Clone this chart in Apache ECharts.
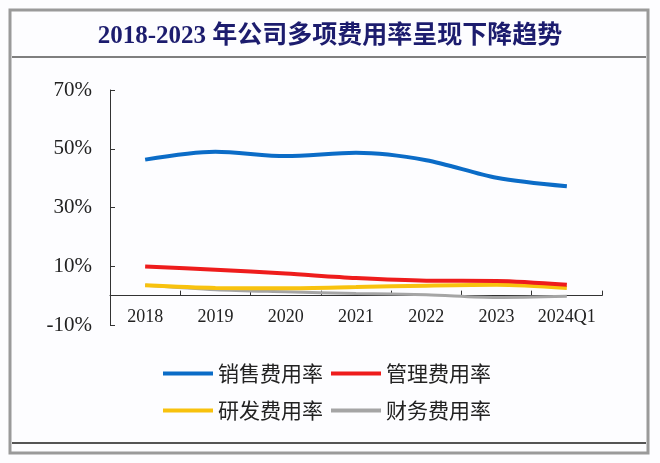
<!DOCTYPE html>
<html><head><meta charset="utf-8">
<script src="https://cdn.jsdelivr.net/npm/echarts@6/dist/echarts.min.js"></script>
<style>html,body{margin:0;padding:0;background:#fff}#c{width:660px;height:463px}</style>
</head><body><div id="c"></div>
<script>
const categories = ['2018','2019','2020','2021','2022','2023','2024Q1'];
const salesRate = [46.3, 49.0, 47.5, 48.6, 46.1, 40.1, 37.2];
const adminRate = [9.9, 8.8, 7.5, 6.0, 5.1, 5.0, 3.7];
const rdRate = [3.5, 2.6, 2.5, 2.9, 3.4, 3.7, 2.6];
const finRate = [3.5, 2.0, 1.3, 0.7, 0.3, -0.6, -0.2];
const seriesNames = ['销售费用率','管理费用率','研发费用率','财务费用率'];
const yTicks = [-10, 10, 30, 50, 70];

const chart = echarts.init(document.getElementById('c'));
const serif = "'Liberation Serif','Times New Roman',serif";
const colors = ['#0b6cc7','#ee1c1c','#f8c20e','#a5a5a5'];
const mk = (name, data, i, w) => ({
  name, type:'line', data, smooth:0.3, symbol:'none',
  lineStyle:{color:colors[i], width:w}, itemStyle:{color:colors[i]}, z: 10 - i
});
const gridTop = 90, gridBottom = 138, H = 463;
const plotH = H - gridTop - gridBottom;
const zeroOffset = -plotH * (0 - yTicks[0]) / (yTicks[yTicks.length-1] - yTicks[0]);
chart.setOption({
  backgroundColor:'#fdfdff',
  animation:false,
  title:{text:'2018-2023 年公司多项费用率呈现下降趋势', left:'center', top:19,
    textStyle:{fontFamily:serif+",'Noto Sans CJK SC'", fontWeight:'bold', fontSize:25, color:'#1c1c6e'}},
  graphic:[
    {type:'rect', shape:{x:10,y:10,width:638,height:443}, style:{fill:'none', stroke:'#9a9a9a', lineWidth:3}, z:-1},
    {type:'line', shape:{x1:12,y1:57,x2:646,y2:57}, style:{stroke:'#555', lineWidth:1.5}},
    {type:'line', shape:{x1:12,y1:443,x2:646,y2:443}, style:{stroke:'#555', lineWidth:2}}
  ],
  legend:[
    {data:[seriesNames[0],seriesNames[1]], top:358, left:158, icon:'rect', itemWidth:50, itemHeight:4, itemGap:8,
     textStyle:{fontFamily:"'Noto Sans CJK SC'", fontSize:21, color:'#222'}},
    {data:[seriesNames[2],seriesNames[3]], top:395, left:158, icon:'rect', itemWidth:50, itemHeight:4, itemGap:8,
     textStyle:{fontFamily:"'Noto Sans CJK SC'", fontSize:21, color:'#222'}}
  ],
  grid:{left:110, right:58, top:gridTop, bottom:gridBottom},
  xAxis:{type:'category', data:categories, boundaryGap:true, position:'bottom', offset:zeroOffset,
    axisLine:{onZero:false, lineStyle:{color:'#333', width:1}},
    axisTick:{show:true, inside:true, length:5, interval:0, lineStyle:{color:'#333'}},
    axisLabel:{margin:13, interval:0, fontFamily:serif, fontSize:18, color:'#222'}},
  yAxis:{type:'value', min:yTicks[0], max:yTicks[yTicks.length-1], interval:20,
    splitLine:{show:false},
    axisLine:{show:true, lineStyle:{color:'#333', width:1}},
    axisTick:{show:true, inside:true, length:5, lineStyle:{color:'#333'}},
    axisLabel:{margin:18, fontFamily:serif, fontSize:21, color:'#222', formatter:v=>v+'%'}},
  series:[
    mk(seriesNames[0], salesRate, 0, 4),
    mk(seriesNames[1], adminRate, 1, 4),
    mk(seriesNames[2], rdRate, 2, 4),
    mk(seriesNames[3], finRate, 3, 3)
  ]
});
</script></body></html>
